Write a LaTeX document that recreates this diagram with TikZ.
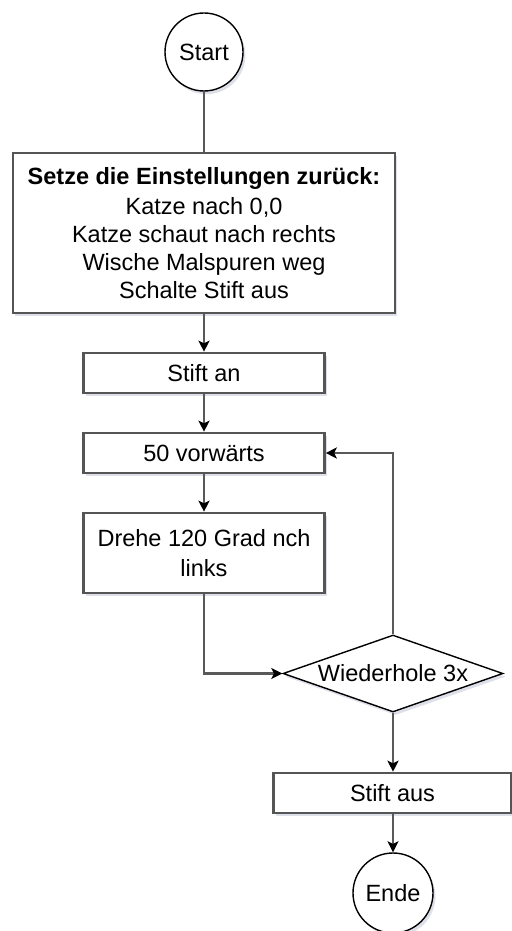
\documentclass[tikz,border=0pt]{standalone}
\usepackage{fontspec}
\setmainfont{Liberation Sans}
\usetikzlibrary{shapes.geometric,arrows.meta,shadows}
\definecolor{boxgray}{HTML}{555555}
\definecolor{linegray}{HTML}{595959}
\definecolor{shadowc}{HTML}{8A8FB0}
\begin{document}
\begin{tikzpicture}[x=0.5pt,y=-0.5pt,
  font=\fontsize{11.75}{14}\selectfont,
  shad/.style={drop shadow={shadow xshift=1.2pt,shadow yshift=-1.6pt,opacity=0.28,fill=shadowc}},
  box/.style={rectangle,draw=boxgray,line width=1.3pt,fill=white,inner sep=0pt,
    align=center,minimum width=120.5pt,minimum height=20pt,shad},
  term/.style={circle,draw=black,line width=0.7pt,fill=white,inner sep=0pt,shad},
  dia/.style={diamond,draw=black,line width=0.7pt,fill=white,inner sep=0pt,aspect=2.857,
    minimum width=110pt,minimum height=38.5pt,shad},
  conn/.style={draw=linegray,line width=1.3pt},
  arr/.style={conn,-{Stealth[length=5.5pt,width=5.5pt,inset=1.3pt,color=black]}}]
\useasboundingbox (0,0) rectangle (512,931);
\node[term,minimum size=39pt] (start) at (204,52) {Start};
\node[box,minimum width=191pt,minimum height=80pt] (reset) at (204,233)
  {\textbf{Setze die Einstellungen zurück:}\\[1pt]Katze nach 0,0\\Katze schaut nach rechts\\Wische Malspuren weg\\Schalte Stift aus};
\node[box] (stiftan) at (204,373) {Stift an};
\node[box] (vor) at (204,453) {50 vorwärts};
\node[box,minimum height=40pt,font=\fontsize{11.75}{15}\selectfont] (drehe) at (204,553) {Drehe 120 Grad nch\\links};
\node[dia] (rep) at (393,673.5) {Wiederhole 3x};
\node[box,minimum width=119pt] (stiftaus) at (392.5,793) {Stift aus};
\node[term,minimum size=40pt] (ende) at (393,893) {Ende};
\draw[conn] (start) -- (reset);
\draw[arr] (reset) -- (stiftan);
\draw[arr] (stiftan) -- (vor);
\draw[arr] (vor) -- (drehe);
\draw[arr] (drehe.south) |- (rep.west);
\draw[arr] (rep.north) |- (vor.east);
\draw[arr] (rep.south) -- (rep.south |- stiftaus.north);
\draw[arr] (ende.north |- stiftaus.south) -- (ende.north);
\end{tikzpicture}
\end{document}
